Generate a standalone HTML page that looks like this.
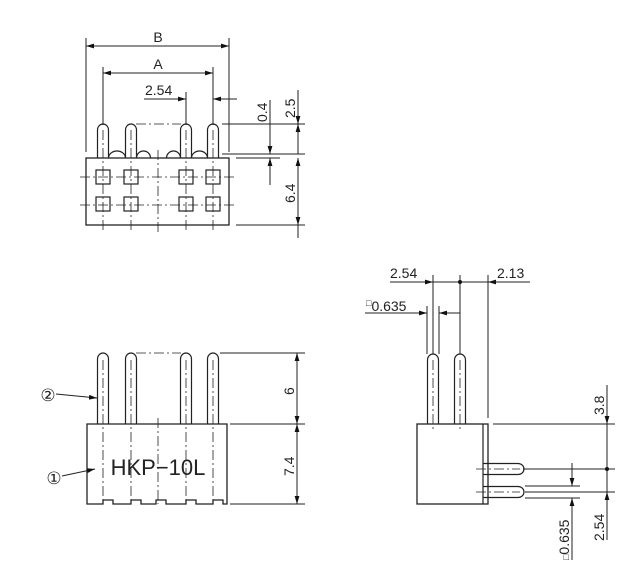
<!DOCTYPE html>
<html><head><meta charset="utf-8"><style>
html,body{margin:0;padding:0;background:#fff;}
svg{display:block;font-family:"Liberation Sans",sans-serif;}
</style></head><body>
<svg width="624" height="573" viewBox="0 0 624 573" xmlns="http://www.w3.org/2000/svg">
<defs>
<marker id="a" viewBox="0 0 10 6" refX="10" refY="3" markerWidth="8" markerHeight="5" orient="auto-start-reverse" markerUnits="userSpaceOnUse"><path d="M0,0L10,3L0,6z" fill="#111"/></marker>
</defs>
<g stroke="#222" stroke-width="1" fill="none">
<!-- TOP VIEW -->
<rect x="86" y="158" width="143" height="67" stroke-width="1.3"/>
<g stroke-width="1.2">
<path d="M97.5,158V130a5.5,6 0 0 1 11,0V158"/>
<path d="M125.5,158V130a5.5,6 0 0 1 11,0V158"/>
<path d="M180.5,158V130a5.5,6 0 0 1 11,0V158"/>
<path d="M207.5,158V130a5.5,6 0 0 1 11,0V158"/>
<path d="M108.5,158a8.5,7 0 0 1 17,0 M136.5,158a7,7 0 0 1 14,0 M166.5,158a7,7 0 0 1 14,0 M191.5,158a8,7 0 0 1 16,0"/>
<rect x="96" y="170" width="14" height="14"/><rect x="124" y="170" width="14" height="14"/>
<rect x="179" y="170" width="14" height="14"/><rect x="206" y="170" width="14" height="14"/>
<rect x="96" y="197" width="14" height="14"/><rect x="124" y="197" width="14" height="14"/>
<rect x="179" y="197" width="14" height="14"/><rect x="206" y="197" width="14" height="14"/>
</g>
<g stroke-dasharray="10,3,2,3" stroke-width="0.8">
<path d="M80,177H236M80,205H236M103,130V232M131,130V232M186,130V232M213,130V232M158,150V232M136,124H181"/>
</g>
<path d="M86,38V152M229,38V152M103,67V125M213,67V125M186,92V125"/>
<path d="M86,46H229" marker-start="url(#a)" marker-end="url(#a)"/>
<path d="M103,73H213" marker-start="url(#a)" marker-end="url(#a)"/>
<path d="M144,99H186" marker-end="url(#a)"/><path d="M237,99H213" marker-end="url(#a)"/>
<path d="M222,124H305M222,154H305M236,158H280M236,225H305"/>
<path d="M270,100V154" marker-end="url(#a)"/><path d="M270,185V158" marker-end="url(#a)"/>
<path d="M298,90V124" marker-end="url(#a)"/><path d="M298,154V124" marker-end="url(#a)"/>
<path d="M298,158V225" marker-start="url(#a)" marker-end="url(#a)"/><path d="M298,225V238"/>

<!-- FRONT VIEW -->
<path d="M87,424H227V504H223V500H213V504H196V500H186V504H166V500H156V504H141V500H131V504H113V500H103V504H87Z" stroke-width="1.3"/>
<g stroke-width="1.2">
<path d="M97.5,424V359a5.5,6 0 0 1 11,0V424"/>
<path d="M125.5,424V359a5.5,6 0 0 1 11,0V424"/>
<path d="M180.5,424V359a5.5,6 0 0 1 11,0V424"/>
<path d="M207.5,424V359a5.5,6 0 0 1 11,0V424"/>
</g>
<g stroke-dasharray="10,3,2,3" stroke-width="0.8">
<path d="M103,360V504M131,360V504M186,360V504M213,360V504M158,418V504M136,353H181"/>
</g>
<path d="M220,353H305M230,424H305M230,504H305"/>
<path d="M297,353V424" marker-start="url(#a)" marker-end="url(#a)"/>
<path d="M297,424V504" marker-start="url(#a)" marker-end="url(#a)"/>
<path d="M56,394L97,398" marker-end="url(#a)"/>
<path d="M62,476L95,469" marker-end="url(#a)"/>

<!-- SIDE VIEW -->
<rect x="417" y="424" width="71" height="80" stroke-width="1.3"/>
<path d="M483,424V504" stroke-width="1.2"/>
<g stroke-width="1.2">
<path d="M427.5,424V360a5.5,6 0 0 1 11,0V424"/>
<path d="M454.5,424V360a5.5,6 0 0 1 11,0V424"/>
<path d="M483,463.5H518a6,5.5 0 0 1 0,11H483"/>
<path d="M483,486.5H518a6,5.5 0 0 1 0,11H483"/>
</g>
<g stroke-dasharray="10,3,2,3" stroke-width="0.8">
<path d="M433,360V430M460,360V430M476,469H520M476,492H520"/>
</g>
<path d="M433,275V354M460,275V354M488,275V418M427,306V354M439,306V354"/>
<path d="M390,282H433" marker-end="url(#a)"/><path d="M433,282H488"/><path d="M530,282H488" marker-end="url(#a)"/>
<path d="M365,313H427" marker-end="url(#a)"/><path d="M460,313H439" marker-end="url(#a)"/>
<path d="M493,424H615M523,469H615M525,486H580M525,498H580M525,492H615"/>
<path d="M607,385V424" marker-end="url(#a)"/>
<path d="M607,469V424"/><path d="M607,469V492"/>
<path d="M607,540V492" marker-end="url(#a)"/>
<path d="M572,463V486" marker-end="url(#a)"/><path d="M572,560V498" marker-end="url(#a)"/>
</g>
<circle cx="460" cy="282" r="2" fill="#111"/>
<circle cx="607" cy="469" r="2" fill="#111"/>
<g fill="#222" font-size="14">
<text x="158" y="42" text-anchor="middle">B</text>
<text x="158" y="69" text-anchor="middle">A</text>
<text x="145" y="95">2.54</text>
<text transform="translate(267,122) rotate(-90)">0.4</text>
<text transform="translate(295,118) rotate(-90)">2.5</text>
<text transform="translate(295,203) rotate(-90)">6.4</text>
<text transform="translate(294,395) rotate(-90)">6</text>
<text transform="translate(294,476) rotate(-90)">7.4</text>
<text x="158" y="475" text-anchor="middle" font-size="22">HKP−10L</text>
<text x="48" y="401" text-anchor="middle" font-size="17">②</text>
<text x="54" y="484" text-anchor="middle" font-size="17">①</text>
<text x="390" y="278">2.54</text>
<text x="497" y="278">2.13</text>
<text x="366" y="311"><tspan font-size="9" dy="-5">□</tspan><tspan dy="5">0.635</tspan></text>
<text transform="translate(604,415) rotate(-90)">3.8</text>
<text transform="translate(604,541) rotate(-90)">2.54</text>
<text transform="translate(569,560) rotate(-90)"><tspan font-size="9">□</tspan>0.635</text>
</g>
</svg>
</body></html>
